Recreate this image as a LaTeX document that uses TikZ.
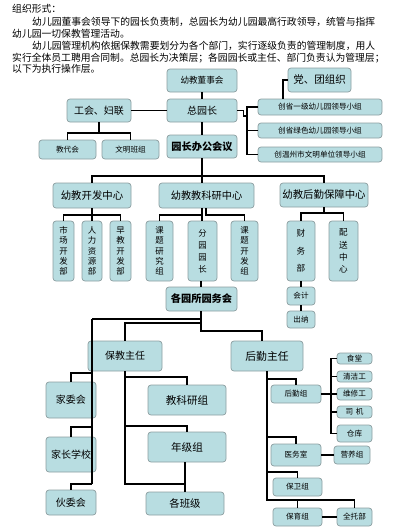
\documentclass[tikz,border=0pt]{standalone}
\usepackage{fontspec}
\setmainfont{Noto Sans CJK SC}
\definecolor{boxfill}{HTML}{B8DDE1}
\definecolor{boxline}{HTML}{8C9EA0}
\newcommand\mybox[7][]{\node[bx,minimum width={#4pt-#2pt},minimum height={#5pt-#3pt},#1] (#6) at ({(#2+#4)/2},{(#3+#5)/2}) {#7};}
\begin{document}
\begin{tikzpicture}[x=1pt,y=-1pt,
  bx/.style={draw=boxline,fill=boxfill,rounded corners=3pt,line width=0.7pt,inner sep=0pt,align=center,font=\fontsize{10}{12}\selectfont},
  sm/.style={font=\fontsize{7.6}{9}\selectfont},
  md/.style={font=\fontsize{8.6}{10}\selectfont},
  bd/.style={font=\fontsize{10.2}{12}\selectfont\bfseries},
  vt/.style={font=\fontsize{8.4}{10.3}\selectfont},
  ln/.style={line width=1.3pt,black},
  tk/.style={line width=2.6pt,black},
  para/.style={anchor=west,inner sep=0pt,font=\fontsize{9.8}{11}\selectfont}]
\useasboundingbox (0,0) rectangle (400,528);
% paragraph
\node[para] (p1) at (12,9) {组织形式：};
\node[para] (p2) at (32,22) {幼儿园董事会领导下的园长负责制，总园长为幼儿园最高行政领导，统管与指挥};
\node[para] (p3) at (12,34) {幼儿园一切保教管理活动。};
\node[para] (p4) at (32,46) {幼儿园管理机构依据保教需要划分为各个部门，实行逐级负责的管理制度，用人};
\node[para] (p5) at (12,58) {实行全体员工聘用合同制。总园长为决策层；各园园长或主任、部门负责认为管理层；};
\node[para] (p6) at (12,69) {以下为执行操作层。};
% top
\mybox[md]{167}{69}{237}{92}{dsh}{幼教董事会}
\mybox{167}{99}{237}{122}{zy}{总园长}
\mybox[bd]{167}{135}{237}{158}{bg}{园长办公会议}
\mybox{67}{99}{131}{122}{gh}{工会、妇联}
\mybox[sm]{39}{140}{96}{159}{jd}{教代会}
\mybox[sm]{102}{140}{159}{159}{wm}{文明班组}
\mybox[font=\fontsize{10.5}{12}\selectfont]{288}{68}{351}{92}{dt}{党、团组织}
\mybox[sm]{258}{99}{382}{115}{ca}{创省一级幼儿园领导小组}
\mybox[sm]{258}{123}{382}{138}{cb}{创省绿色幼儿园领导小组}
\mybox[sm]{258}{147}{382}{162}{cc}{创温州市文明单位领导小组}
% centers
\mybox[font=\fontsize{10.4}{12}\selectfont]{53}{183}{131}{208}{kf}{幼教开发中心}
\mybox[font=\fontsize{10.2}{12}\selectfont]{159}{183}{254}{208}{kj}{幼教教科研中心}
\mybox[font=\fontsize{10.4}{12}\selectfont]{280}{183}{368}{207}{hq}{幼教后勤保障中心}
\mybox[vt]{53}{221}{74}{281}{sc}{市\\场\\开\\发\\部}
\mybox[vt]{82}{221}{102}{281}{rl}{人\\力\\资\\源\\部}
\mybox[vt]{110}{221}{131}{281}{zj}{早\\教\\开\\发\\部}
\mybox[vt]{146}{221}{173}{281}{ky}{课\\题\\研\\究\\组}
\mybox[font=\fontsize{8.4}{12}\selectfont]{188}{221}{217}{281}{fy}{分\\园\\园\\长}
\mybox[vt]{231}{221}{258}{281}{kk}{课\\题\\开\\发\\组}
\mybox[font=\fontsize{8.6}{17.5}\selectfont]{287}{221}{315}{281}{cw}{财\\务\\部}
\mybox[font=\fontsize{8.6}{12.3}\selectfont]{329}{221}{358}{281}{ps}{配\\送\\中\\心}
\mybox[sm]{287}{287}{315}{305}{kjj}{会计}
\mybox[sm]{287}{311}{315}{328}{cn}{出纳}
\mybox[bd]{166}{287}{237}{311}{yw}{各园所园务会}
% lower left
\mybox{88}{341}{162}{371}{bj}{保教主任}
\mybox{46}{382}{96}{418}{jw}{家委会}
\mybox{46}{437}{96}{472}{jx}{家长学校}
\mybox{46}{490}{96}{515}{hw}{伙委会}
\mybox[font=\fontsize{10.6}{12}\selectfont]{148}{385}{226}{415}{jy}{教科研组}
\mybox[font=\fontsize{10.6}{12}\selectfont]{148}{432}{226}{462}{nj}{年级组}
\mybox[font=\fontsize{10.4}{12}\selectfont]{146}{492}{224}{515}{bjj}{各班级}
% lower right
\mybox[font=\fontsize{10.8}{12}\selectfont]{231}{341}{303}{371}{hz}{后勤主任}
\mybox[sm]{271}{385}{321}{403}{hqz}{后勤组}
\mybox[sm]{271}{444}{321}{466}{yws}{医务室}
\mybox[sm]{273}{478}{322}{496}{bw}{保卫组}
\mybox[sm]{273}{508}{322}{526}{by}{保育组}
\mybox[sm]{337}{508}{372}{526}{qt}{全托部}
\mybox[sm]{334}{446}{370}{464}{yy}{营养组}
\mybox[sm]{337}{353}{372}{364}{st}{食堂}
\mybox[sm]{337}{371}{372}{382}{qj}{清洁工}
\mybox[sm]{337}{388}{372}{400}{wx}{维修工}
\mybox[sm]{337}{406}{372}{418}{sj}{司\,\,机}
\mybox[sm]{337}{425}{372}{442}{ck}{仓库}
% connectors top
\draw[ln] (dsh.south) -- (zy.north);
\draw[ln] (zy.south) -- (bg.north);
\draw[ln] (gh.east) -- (zy.west);
\draw[ln] (gh.south) -- (gh.south |- 0,133);
\draw[ln] (jd.north) -- (jd.north |- 0,133) -- (wm.north |- 0,133) -- (wm.north);
\draw[ln] (zy.east) -- ++(6,0) -- ++(0,5.5) -- (247,116);
\draw[ln] (ca.west) -- (ca.west -| 247,0) -- (cc.west -| 247,0) -- (cc.west);
\draw[ln] (cb.west) -- (cb.west -| 247,0);
\draw[ln] (ca.north -| 283,0) |- (dt.west);
% centers
\draw[ln] (bg.south) -- (bg.south |- kj.north);
\draw[ln] (kf.north) -- (kf.north |- 0,176) -- (hq.north |- 0,176) -- (hq.north);
\draw[ln] (kf.south) -- (rl.north);
\draw[ln] (sc.north) -- (sc.north |- 0,215) -- (zj.north |- 0,215) -- (zj.north);
\draw[ln] (ky.north) -- (ky.north |- 0,215) -- (202,215);
\draw[ln] (kj.south -| 202,0) -- (fy.north -| 202,0);
\draw[ln] (kj.south -| 206,0) -- (206,215) -- (kk.north |- 0,215) -- (kk.north);
\draw[ln] (hq.south) -- (hq.south |- 0,213);
\draw[ln] (cw.north) -- (cw.north |- 0,213) -- (ps.north |- 0,213) -- (ps.north);
\draw[ln] (cw.south) -- (kjj.north);
\draw[ln] (kjj.south) -- (cn.north);
\draw[tk] (fy.south -| 201,0) -- (yw.north -| 201,0);
% below 各园所园务会
\draw[tk] (yw.south -| 201,0) -- (201,324);
\draw[ln] (201,323) -- (201,331) -- (262,331) -- (hz.north -| 262,0);
\draw[ln] (92,319) -- (202,319);
\draw[ln] (bj.north) -- (bj.north |- 0,323) -- (202,323);
\draw[ln] (92,319) -- (92,484);
\draw[ln] (92,373) -| (jw.north);
\draw[ln] (92,427) -| (jx.north);
\draw[ln] (92,484) -| (hw.north);
\draw[ln] (bj.south) -- (bj.south |- 0,484) -- (bjj.north |- 0,484);
\draw[ln] (bj.south |- 0,377) -| (jy.north);
\draw[ln] (bj.south |- 0,426) -| (nj.north);
\draw[ln] (bjj.north |- nj.south) -- (bjj.north);
% 后勤主任
\draw[ln] (hz.south) -- (hz.south |- 0,500) -| (qt.north);
\draw[ln] (hz.south |- 0,379) -| (hqz.north);
\draw[ln] (hz.south |- 0,437) -| (yws.north);
\draw[ln] (hz.south |- 0,472) -| (bw.north);
\draw[ln] (by.north |- 0,500) -- (by.north);
\draw[ln] (by.east) -- (qt.west);
\draw[ln] (yws.east) -- (yy.west);
\draw[ln] (hqz.east) -- (hqz.east -| 331,0);
\draw[ln] (st.west) -- (st.west -| 331,0) -- (ck.west -| 331,0) -- (ck.west);
\draw[ln] (qj.west) -- (qj.west -| 331,0);
\draw[ln] (wx.west) -- (wx.west -| 331,0);
\draw[ln] (sj.west) -- (sj.west -| 331,0);
\end{tikzpicture}
\end{document}
